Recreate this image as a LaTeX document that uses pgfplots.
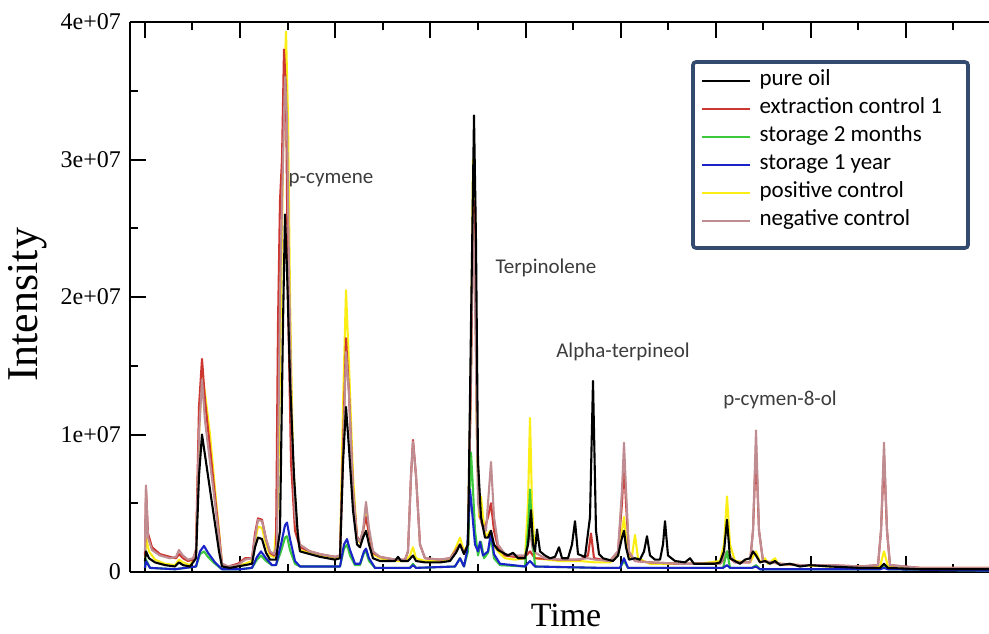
\documentclass[border=0pt]{standalone}
\usepackage{pgfplots}
\pgfplotsset{compat=1.18}
\usepackage{fontspec}
\setmainfont{Liberation Serif}
\newfontfamily\carlito{Carlito}
\usetikzlibrary{calc}

\definecolor{extr}{RGB}{205,55,50}
\definecolor{stmon}{RGB}{60,200,60}
\definecolor{styear}{RGB}{25,35,200}
\definecolor{posc}{RGB}{250,238,20}
\definecolor{negc}{RGB}{190,140,145}
\definecolor{boxblue}{RGB}{50,75,110}
\definecolor{annot}{RGB}{60,60,60}

\begin{document}
\begin{tikzpicture}
\begin{axis}[
    name=ax,
    scale only axis,
    width=429.5pt, height=275pt,
    xmin=130, xmax=989,
    ymin=0, ymax=40,
    separate axis lines,
    axis x line=box,
    axis y line=left,
    axis line style={-, line width=1pt},
    every tick/.style={black, line width=1pt},
    tick align=inside,
    major tick length=8pt,
    minor tick length=4pt,
    xtick={145,240,335,430,526,621,716,811,906},
    minor xtick={192.5,287.5,383,478,573,668,763,858,953},
    xticklabels={},
    ytick={0,10,20,30,40},
    minor ytick={5,15,25,35},
    yticklabels={0,1e+07,2e+07,3e+07,4e+07},
    yticklabel style={font=\fontsize{12}{14}\selectfont, xshift=-1pt},
    xlabel={Time},
    ylabel={Intensity},
    xlabel style={at={(axis description cs:0.5076,-0.079)}, anchor=center, font=\fontsize{17}{19}\selectfont},
    ylabel style={at={(axis description cs:-0.1187,0.4855)}, anchor=center, font=\fontsize{22}{24}\selectfont},
    legend image code/.code={\draw[#1] (0pt,0pt) -- (18.5pt,0pt); \path (0pt,0pt) -- (24pt,0pt);},
    legend cell align=left,
    legend style={draw=none, fill=none, at={(axis description cs:0.6642,0.9185)}, anchor=north west,
        inner sep=0pt, font=\carlito\fontsize{11.5}{14}\selectfont,
        nodes={inner xsep=4.25pt, inner ysep=0pt, text height=9pt, text depth=5pt}},
    every axis plot/.append style={line width=1.05pt, line join=round},
]
\addlegendimage{black}\addlegendentry{pure oil}
\addlegendimage{extr}\addlegendentry{extraction control 1}
\addlegendimage{stmon}\addlegendentry{storage 2 months}
\addlegendimage{styear}\addlegendentry{storage 1 year}
\addlegendimage{posc}\addlegendentry{positive control}
\addlegendimage{negc}\addlegendentry{negative control}

% positive control
\addplot[posc, forget plot] coordinates {
(145,0.8)(146,2.5)(149,1.5)(155,0.9)(165,0.6)(175,0.5)(179,0.9)(183,0.7)(190,0.5)(196,1.2)(199,10)(202,14.5)(205,13)(210,10)(215,6)(219,3)(222,0.5)(230,0.3)(245,0.6)(252,0.8)(255,2.2)(258,3.3)(262,3.2)(266,2)(270,1.2)(274,1.1)(278,5)(281,20)(284,35)(286,39.3)(288,33)(290,20)(293,8)(297,3)(300,1.6)(310,1.4)(320,1.2)(335,1.0)(340,1.1)(343,12)(346,20.5)(349,15)(353,7)(357,2.5)(360,2.1)(363,3)(366,4.2)(369,2.8)(373,1.3)(380,1.0)(395,0.8)(405,0.8)(410,1.2)(413,1.8)(416,1.0)(425,0.8)(440,0.8)(450,0.9)(456,1.8)(460,2.5)(464,1.5)(468,2)(471,15)(473,30)(475,26)(477,9)(479,4)(481,5.5)(483,4)(486,2.5)(490,3)(493,2)(498,1.5)(505,1.0)(515,0.9)(525,1.0)(528,5)(530,11.2)(532,5)(535,1.0)(560,0.8)(580,0.8)(595,0.7)(610,0.7)(618,1.2)(622,3)(624,4)(626,2.5)(629,1.0)(632,1.2)(635,2.7)(638,1.0)(650,0.6)(680,0.6)(700,0.6)(720,0.8)(724,2)(727,5.5)(730,2)(735,0.8)(750,0.7)(756,1.5)(760,0.7)(765,1.0)(768,0.6)(775,1.0)(778,0.6)(800,0.5)(830,0.4)(860,0.4)(880,0.4)(884,1.5)(888,0.4)(920,0.3)(960,0.3)(989,0.3)
};
% extraction control 1
\addplot[extr, forget plot] coordinates {
(145,1.2)(146,6.0)(148,2.8)(152,1.8)(160,1.3)(170,1.1)(176,1.0)(179,1.3)(183,1.0)(188,0.8)(193,0.9)(196,1.6)(199,12)(202,15.5)(205,12.5)(210,9)(215,5.5)(219,2.8)(222,0.6)(228,0.4)(238,0.6)(245,1.0)(252,1.0)(255,2.8)(258,3.9)(262,3.8)(266,2.4)(270,1.4)(274,1.2)(276,1.5)(278,18)(280,27)(282,30)(284,38)(286,35)(288,20)(291,8)(295,3)(300,1.8)(310,1.5)(320,1.3)(335,1.1)(340,1.2)(343,9)(346,17)(349,13)(353,6)(357,2.6)(360,2.2)(363,3)(366,4)(369,2.8)(373,1.4)(380,1.1)(395,0.9)(405,0.9)(408,1.5)(411,7)(413,9.6)(416,7)(420,2)(425,1.0)(440,0.9)(450,1.0)(456,1.6)(460,2.0)(464,1.4)(468,2)(471,14)(473,25)(475,27)(477,10)(480,4)(484,3)(488,4)(491,5)(494,3)(498,1.8)(505,1.2)(515,1.1)(525,1.1)(530,1.5)(535,1.0)(560,0.9)(580,0.9)(588,1.2)(591,2.8)(594,1.0)(610,0.8)(618,1.5)(622,5)(624,8)(626,5)(629,1.4)(635,0.8)(650,0.7)(680,0.6)(720,0.6)(727,1.2)(735,0.7)(750,0.7)(753,3)(756,9)(759,3)(763,0.8)(780,0.6)(800,0.5)(830,0.5)(860,0.4)(878,0.5)(881,3)(884,8.5)(887,3)(890,0.5)(920,0.3)(960,0.3)(989,0.3)
};
% negative control
\addplot[negc, forget plot] coordinates {
(145,1.5)(146,6.3)(148,2.5)(152,1.6)(160,1.2)(170,1.0)(176,1.1)(179,1.6)(183,1.2)(188,0.9)(193,1.0)(196,1.5)(199,10)(202,14.0)(205,11)(210,8)(215,5)(219,2.5)(222,0.6)(228,0.4)(238,0.5)(245,0.9)(252,1.0)(255,2.5)(258,3.8)(262,3.7)(266,2.4)(270,1.5)(274,1.3)(277,2)(280,20)(283,30)(285,36)(287,33)(289,22)(292,10)(295,4)(300,2.0)(310,1.5)(320,1.3)(335,1.1)(340,1.2)(343,8)(346,16)(349,13)(353,6)(357,2.5)(360,2.2)(363,3)(366,5.1)(369,3.2)(373,1.5)(380,1.1)(395,0.9)(405,0.9)(408,1.5)(411,7)(413,9.5)(416,7)(420,2)(425,1.0)(440,0.9)(450,1.0)(456,1.5)(460,2.0)(464,1.4)(468,2)(471,15)(473,26)(475,20)(478,5)(482,3.5)(486,3)(489,6)(491,8)(494,4)(498,2)(505,1.3)(515,1.2)(525,1.2)(528,2)(530,3)(533,1.5)(545,1.0)(560,0.9)(575,0.9)(588,1.0)(595,0.9)(610,0.8)(618,1.5)(622,6)(624,9.4)(626,6)(629,1.5)(635,0.8)(650,0.7)(680,0.6)(700,0.6)(720,0.6)(727,1.5)(735,0.7)(750,0.7)(753,3)(756,10.3)(759,3)(763,0.8)(780,0.6)(800,0.5)(830,0.5)(860,0.4)(878,0.5)(881,3)(884,9.4)(887,3)(890,0.5)(920,0.3)(960,0.3)(989,0.3)
};
% storage 2 months
\addplot[stmon, forget plot] coordinates {
(145,0.3)(146,0.9)(150,0.3)(175,0.2)(196,0.4)(200,1.3)(204,1.5)(208,1.1)(215,0.6)(222,0.2)(240,0.2)(252,0.3)(257,0.9)(261,1.2)(266,0.8)(272,0.5)(276,0.5)(281,1.5)(285,2.5)(287,2.6)(290,1.6)(295,0.6)(300,0.4)(340,0.4)(344,1.7)(347,2.0)(350,1.2)(355,0.5)(360,0.5)(364,1.4)(366,1.5)(369,0.8)(375,0.3)(410,0.3)(413,0.6)(416,0.3)(455,0.4)(460,1.0)(464,0.4)(468,1.5)(471,8.7)(473,6)(475,3)(478,1.2)(481,2.2)(484,1.0)(488,1.4)(491,2.5)(494,1.0)(500,0.5)(525,0.4)(528,3)(530,6)(532,3)(535,0.4)(600,0.3)(620,0.3)(624,0.8)(628,0.3)(700,0.3)(723,0.3)(727,1.5)(730,0.3)(752,0.3)(756,0.5)(760,0.2)(880,0.2)(884,0.4)(888,0.2)(989,0.1)
};
% storage 1 year
\addplot[styear, forget plot] coordinates {
(145,0.3)(146,0.8)(150,0.3)(175,0.2)(196,0.4)(200,1.5)(204,1.9)(208,1.4)(215,0.7)(222,0.2)(240,0.2)(252,0.3)(257,1.1)(261,1.5)(266,1.0)(272,0.5)(276,0.5)(281,2)(285,3.4)(287,3.6)(290,2.4)(295,0.8)(300,0.4)(340,0.4)(344,2.0)(347,2.4)(350,1.6)(355,0.6)(360,0.6)(364,1.5)(366,1.7)(369,1.0)(375,0.3)(410,0.3)(413,0.5)(416,0.3)(455,0.4)(460,1.0)(464,0.4)(467,1.5)(470,6)(472,4.5)(475,2)(478,1.5)(480,2.2)(483,1.2)(488,1.5)(491,2.9)(494,1.3)(500,0.6)(525,0.4)(530,0.8)(535,0.4)(600,0.3)(620,0.3)(624,1.0)(628,0.3)(723,0.3)(727,0.5)(730,0.3)(752,0.3)(756,0.4)(760,0.2)(880,0.2)(884,0.3)(888,0.2)(989,0.1)
};
% pure oil
\addplot[black, forget plot] coordinates {
(145,0.8)(146,1.5)(149,1.0)(155,0.7)(165,0.5)(175,0.4)(179,0.7)(183,0.5)(190,0.4)(196,1.0)(199,7)(202,10)(205,8.5)(210,6)(215,3.5)(219,1.5)(222,0.4)(230,0.3)(245,0.5)(252,0.6)(255,1.8)(258,2.5)(262,2.4)(266,1.4)(270,0.9)(276,0.9)(280,3)(283,18)(285,26)(287,22)(290,14)(294,7)(298,2.5)(300,1.5)(310,1.3)(320,1.1)(335,0.9)(340,1.0)(343,8)(346,12)(349,9)(353,4.5)(357,2)(360,1.8)(363,2.5)(366,3)(369,2)(373,1.0)(380,0.8)(395,0.8)(398,1.1)(401,0.8)(408,0.8)(413,1.2)(416,0.8)(425,0.7)(440,0.7)(450,0.8)(456,1.4)(460,2.0)(464,1.3)(468,2)(471,18)(474,33.2)(476,24)(478,8)(481,4)(485,2.5)(488,2.5)(491,3)(494,2)(498,1.6)(503,1.4)(508,1.2)(513,1.4)(518,1.0)(525,1.0)(528,2)(531,4.5)(533,2)(535,1.5)(537,3.1)(540,1.5)(545,1.2)(550,1.0)(555,1.1)(559,1.8)(562,1.0)(568,1.0)(572,2)(575,3.7)(578,1.3)(585,1.1)(590,4)(593,13.9)(596,3)(599,1.3)(603,1.0)(608,0.9)(613,0.8)(618,1.2)(622,2.5)(624,3)(626,1.8)(629,0.9)(635,1.0)(640,0.9)(644,1.5)(647,2.6)(650,1.2)(655,0.9)(660,0.9)(663,2)(665,3.7)(668,1.2)(675,0.8)(685,0.7)(690,1.0)(694,0.6)(705,0.6)(715,0.6)(720,0.7)(724,1.5)(727,3.8)(730,1.0)(735,0.8)(740,0.6)(745,0.9)(750,1.0)(753,1.5)(756,1.2)(760,0.7)(765,0.8)(770,0.6)(775,0.8)(780,0.5)(790,0.6)(800,0.4)(810,0.5)(830,0.4)(860,0.3)(880,0.3)(884,0.6)(888,0.3)(920,0.2)(960,0.2)(989,0.2)
};

\node[font=\carlito\fontsize{10.5}{12}\selectfont, text=annot] at (axis cs:331,28.5) {p-cymene};
\node[font=\carlito\fontsize{10.5}{12}\selectfont, text=annot] at (axis cs:546,22.1) {Terpinolene};
\node[font=\carlito\fontsize{10.5}{12}\selectfont, text=annot] at (axis cs:623,16.0) {Alpha-terpineol};
\node[font=\carlito\fontsize{10.5}{12}\selectfont, text=annot] at (axis cs:780,12.5) {p-cymen-8-ol};
\end{axis}
\draw[boxblue, line width=1.8pt, rounded corners=1.5pt]
  ($(ax.south west)+(281.5pt,162pt)$) rectangle ($(ax.south west)+(419pt,255pt)$);
\pgfresetboundingbox
\path[use as bounding box] ($(ax.south west)+(-65pt,-30.5pt)$) rectangle ($(ax.north east)+(0pt,11pt)$);
\end{tikzpicture}
\end{document}
